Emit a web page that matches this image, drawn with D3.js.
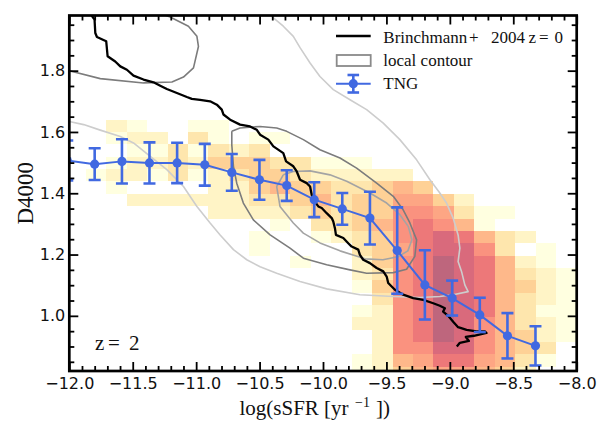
<!DOCTYPE html>
<html>
<head>
<meta charset="utf-8">
<script src="https://cdn.jsdelivr.net/npm/d3@7"></script>
<style>
  body { margin: 0; background: #fff; }
  svg { display: block; }
</style>
</head>
<body>
<svg id="chart" width="609" height="422"></svg>
<script>
// ---- data -------------------------------------------------------------

// TNG median D4000 in bins of log sSFR, with the error bars
const tngLogSSFR = [-12.016, -11.800, -11.585, -11.368, -11.150, -10.932, -10.719, -10.501, -10.286,
                    -10.069, -9.848, -9.630, -9.415, -9.197, -8.982, -8.764, -8.546, -8.325];
const tngD4000   = [1.507, 1.495, 1.504, 1.499, 1.499, 1.493, 1.468, 1.444, 1.425,
                    1.379, 1.349, 1.319, 1.213, 1.101, 1.058, 1.003, 0.935, 0.902];
const tngErr     = [0.065, 0.052, 0.072, 0.067, 0.066, 0.068, 0.060, 0.065, 0.050,
                    0.057, 0.052, 0.086, 0.141, 0.113, 0.057, 0.056, 0.074, 0.064];

// Brinchmann et al. (2004) z = 0 relation
const b04LogSSFR = [-11.860, -11.801, -11.795, -11.782, -11.709, -11.698, -11.638, -11.598, -11.546, -11.494,
                    -11.415, -11.336, -11.283, -11.231, -11.152, -11.073, -11.034, -10.969, -10.890, -10.837,
                    -10.798, -10.785, -10.732, -10.654, -10.575, -10.522, -10.496, -10.431, -10.391, -10.313,
                    -10.291, -10.234, -10.207, -10.181, -10.128, -10.102, -10.089, -10.076, -10.037, -10.010,
                    -9.971, -9.931, -9.919, -9.906, -9.898, -9.840, -9.801, -9.774, -9.722, -9.709,
                    -9.683, -9.630, -9.577, -9.525, -9.498, -9.486, -9.433, -9.368, -9.289, -9.210,
                    -9.131, -9.079, -9.039, -9.053, -9.013, -8.974, -8.935, -8.868, -8.790, -8.724,
                    -8.711, -8.811, -8.874, -8.850, -8.921, -8.945];
const b04D4000   = [2.000, 1.967, 1.923, 1.910, 1.896, 1.847, 1.830, 1.814, 1.803, 1.784,
                    1.771, 1.762, 1.751, 1.740, 1.727, 1.714, 1.708, 1.705, 1.700, 1.689,
                    1.673, 1.657, 1.640, 1.624, 1.618, 1.607, 1.591, 1.575, 1.553, 1.531,
                    1.504, 1.488, 1.471, 1.444, 1.433, 1.422, 1.395, 1.379, 1.357, 1.352,
                    1.335, 1.319, 1.308, 1.286, 1.264, 1.254, 1.237, 1.226, 1.216, 1.199,
                    1.183, 1.172, 1.156, 1.145, 1.128, 1.107, 1.085, 1.069, 1.058, 1.052,
                    1.041, 1.033, 1.025, 1.014, 1.000, 0.981, 0.963, 0.954, 0.949, 0.949,
                    0.944, 0.935, 0.931, 0.918, 0.912, 0.900];

// local (z = 0) density contours, [log sSFR, D4000]
const contourOuterDark = [[-12.05, 1.802], [-12.000, 1.800], [-11.756, 1.774], [-11.415, 1.760], [-11.191, 1.763],
  [-11.100, 1.779], [-11.021, 1.809], [-10.982, 1.879], [-10.994, 1.912], [-11.061, 1.945],
  [-11.205, 1.975], [-11.330, 1.995]];
const contourInnerDark = [[-10.719, 1.602], [-10.654, 1.613], [-10.496, 1.618], [-10.365, 1.613], [-10.286, 1.602],
  [-10.155, 1.575], [-10.024, 1.542], [-9.866, 1.515], [-9.735, 1.482], [-9.577, 1.433],
  [-9.446, 1.390], [-9.368, 1.346], [-9.315, 1.303], [-9.262, 1.248], [-9.276, 1.194],
  [-9.341, 1.152], [-9.446, 1.141], [-9.656, 1.139], [-9.787, 1.150], [-9.971, 1.167],
  [-10.155, 1.188], [-10.260, 1.221], [-10.417, 1.264], [-10.549, 1.313], [-10.628, 1.368],
  [-10.680, 1.433], [-10.706, 1.488], [-10.719, 1.558], [-10.719, 1.602]];
const contourMid = [[-10.313, 1.460], [-10.234, 1.471], [-10.102, 1.473], [-9.945, 1.460], [-9.813, 1.439],
  [-9.630, 1.401], [-9.498, 1.368], [-9.394, 1.330], [-9.328, 1.292], [-9.299, 1.248],
  [-9.331, 1.212], [-9.409, 1.193], [-9.528, 1.183], [-9.669, 1.186], [-9.866, 1.212],
  [-10.024, 1.238], [-10.155, 1.270], [-10.234, 1.303], [-10.339, 1.357], [-10.365, 1.422],
  [-10.313, 1.460]];
const contourLight = [[-12.05, 1.645], [-12.000, 1.634], [-11.887, 1.624], [-11.756, 1.606], [-11.598, 1.585],
  [-11.494, 1.564], [-11.362, 1.520], [-11.231, 1.477], [-11.100, 1.422], [-10.994, 1.357],
  [-10.890, 1.303], [-10.811, 1.264], [-10.706, 1.216], [-10.601, 1.183], [-10.496, 1.160],
  [-10.365, 1.139], [-10.181, 1.112], [-9.971, 1.088], [-9.709, 1.069], [-9.446, 1.063],
  [-9.236, 1.060], [-9.079, 1.063], [-8.974, 1.069], [-8.856, 1.079], [-8.882, 1.101],
  [-8.908, 1.145], [-8.935, 1.177], [-8.921, 1.221], [-8.935, 1.264], [-8.974, 1.319],
  [-9.026, 1.368], [-9.079, 1.401], [-9.157, 1.444], [-9.262, 1.509], [-9.394, 1.575],
  [-9.525, 1.629], [-9.656, 1.673], [-9.787, 1.705], [-9.919, 1.738], [-10.024, 1.781],
  [-10.102, 1.825], [-10.181, 1.875], [-10.234, 1.912], [-10.313, 1.945], [-10.391, 1.972],
  [-10.460, 2.000]];

// 2D histogram of TNG galaxies: density level per cell (0 = empty, a = 10)
// columns start at log sSFR = -13 + 7*5/31 in steps of 5/31, rows listed top to bottom
const heatXStart = -13 + 7 * 5 / 31;
const heatXStep = 5 / 31;
const heatYStart = 0.7937;
const heatYStep = 0.0403;
const heatLevels = [
  "021001100000000000000000",
  "012203101100000000000000",
  "001131323000000000000000",
  "012232444331110000000000",
  "122131234432222200000000",
  "010000224544334540000000",
  "002222223345344664200000",
  "000000222234344776311000",
  "000000000103345787510000",
  "000000001001234789853200",
  "000000001000034689973010",
  "00000000001002478a985210",
  "00000000000002378a985321",
  "00000000000001478a985421",
  "00000000000000378a985321",
  "00000000000001278a985311",
  "00000000000002278a975321",
  "00000000000000278a975421",
  "000000000000002779975430",
  "000000000000012568865310",
  "000000000000012456654200"
];
const levelT = [0, 0, 0.125, 0.25, 0.375, 0.5, 0.57, 0.64, 0.75, 0.86, 0.96];

// axis ticks
const xMajor = [-12, -11.5, -11, -10.5, -10, -9.5, -9, -8.5, -8];
const yMajor = [1.0, 1.2, 1.4, 1.6, 1.8];

// ---- drawing ----------------------------------------------------------

const plot = { left: 69.3, right: 576.7, top: 15.5, bottom: 371 };
const svg = d3.select("#chart");

const x = d3.scaleLinear().domain([-12, -8]).range([plot.left, plot.right]);
const y = d3.scaleLinear().domain([0.82, 1.98]).range([plot.bottom, plot.top]);

svg.append("defs").append("clipPath").attr("id", "plot-clip")
  .append("rect")
  .attr("x", plot.left).attr("y", plot.top)
  .attr("width", plot.right - plot.left).attr("height", plot.bottom - plot.top);

const body = svg.append("g").attr("clip-path", "url(#plot-clip)");

// histogram cells
const cells = [];
const nRows = heatLevels.length;
heatLevels.forEach((row, i) => {
  const k = nRows - 1 - i;
  row.split("").forEach((ch, j) => {
    const level = parseInt(ch, 16);
    if (level > 0) {
      cells.push({
        x0: heatXStart + j * heatXStep,
        x1: heatXStart + (j + 1) * heatXStep,
        y0: heatYStart + k * heatYStep,
        y1: heatYStart + (k + 1) * heatYStep,
        level
      });
    }
  });
});

body.append("g").attr("shape-rendering", "crispEdges")
  .selectAll("rect").data(cells).join("rect")
  .attr("x", d => x(d.x0))
  .attr("y", d => y(d.y1))
  .attr("width", d => x(d.x1) - x(d.x0))
  .attr("height", d => y(d.y0) - y(d.y1))
  .attr("fill", d => d3.interpolateYlOrRd(levelT[d.level]))
  .attr("fill-opacity", 0.6);

// contours
const pairLine = d3.line().x(d => x(d[0])).y(d => y(d[1]));
const contours = [
  { pts: contourLight, color: "#cdcdcd" },
  { pts: contourMid, color: "#a4a4a4" },
  { pts: contourInnerDark, color: "#7c7c7c" },
  { pts: contourOuterDark, color: "#7c7c7c" }
];
body.append("g").selectAll("path").data(contours).join("path")
  .attr("d", d => pairLine(d.pts))
  .attr("fill", "none")
  .attr("stroke", d => d.color)
  .attr("stroke-width", 1.6)
  .attr("stroke-linejoin", "round");

// Brinchmann et al. 2004
const b04 = b04LogSSFR.map((v, i) => [v, b04D4000[i]]);
body.append("path")
  .attr("d", pairLine(b04))
  .attr("fill", "none")
  .attr("stroke", "#000")
  .attr("stroke-width", 2.3)
  .attr("stroke-linejoin", "round");

// TNG medians with error bars
const blue = "#4169e1";
const tng = tngLogSSFR.map((v, i) => ({ x: v, y: tngD4000[i], e: tngErr[i] }));
const tngG = body.append("g");
tngG.append("path")
  .attr("d", d3.line().x(d => x(d.x)).y(d => y(d.y))(tng))
  .attr("fill", "none").attr("stroke", blue).attr("stroke-width", 2);
const eb = tngG.selectAll("g.eb").data(tng).join("g").attr("class", "eb");
eb.append("line")
  .attr("x1", d => x(d.x)).attr("x2", d => x(d.x))
  .attr("y1", d => y(d.y - d.e)).attr("y2", d => y(d.y + d.e))
  .attr("stroke", blue).attr("stroke-width", 2.6);
eb.append("line")
  .attr("x1", d => x(d.x) - 6).attr("x2", d => x(d.x) + 6)
  .attr("y1", d => y(d.y + d.e)).attr("y2", d => y(d.y + d.e))
  .attr("stroke", blue).attr("stroke-width", 2.6);
eb.append("line")
  .attr("x1", d => x(d.x) - 6).attr("x2", d => x(d.x) + 6)
  .attr("y1", d => y(d.y - d.e)).attr("y2", d => y(d.y - d.e))
  .attr("stroke", blue).attr("stroke-width", 2.6);
eb.append("circle")
  .attr("cx", d => x(d.x)).attr("cy", d => y(d.y)).attr("r", 4.6)
  .attr("fill", blue);

// axes: inward ticks on all four sides
const xMinor = d3.range(-11.9, -8.0, 0.1).map(v => +v.toFixed(2))
  .filter(v => !xMajor.some(m => Math.abs(m - v) < 1e-6));
const yMinor = d3.range(0.85, 1.96, 0.05).map(v => +v.toFixed(2))
  .filter(v => !yMajor.some(m => Math.abs(m - v) < 1e-6));
const fmt = d3.format(".1f");

function styleAxis(g) {
  g.select(".domain").remove();
  g.selectAll(".tick line").attr("stroke", "#000").attr("stroke-width", 1.8);
  g.attr("font-family", "DejaVu Sans").attr("font-size", 16);
  g.selectAll("text").attr("fill", "#111");
}

const axes = [
  { gen: d3.axisBottom, scale: x, t: `translate(0,${plot.bottom})`, major: xMajor, minor: xMinor, labels: true, pad: 7 },
  { gen: d3.axisTop, scale: x, t: `translate(0,${plot.top})`, major: xMajor, minor: xMinor, labels: false },
  { gen: d3.axisLeft, scale: y, t: `translate(${plot.left},0)`, major: yMajor, minor: yMinor, labels: true, pad: 4 },
  { gen: d3.axisRight, scale: y, t: `translate(${plot.right},0)`, major: yMajor, minor: yMinor, labels: false }
];
axes.forEach(a => {
  svg.append("g").attr("transform", a.t)
    .call(a.gen(a.scale).tickValues(a.minor).tickSize(-5).tickFormat(""))
    .call(styleAxis);
  svg.append("g").attr("transform", a.t)
    .call(a.gen(a.scale).tickValues(a.major).tickSize(-9)
      .tickPadding(a.labels ? a.pad : 0)
      .tickFormat(a.labels ? fmt : ""))
    .call(styleAxis);
});

// frame
svg.append("rect")
  .attr("x", plot.left).attr("y", plot.top)
  .attr("width", plot.right - plot.left).attr("height", plot.bottom - plot.top)
  .attr("fill", "none").attr("stroke", "#000").attr("stroke-width", 2.7);

// axis titles
const serif = "'Liberation Serif', 'DejaVu Serif', serif";
const xt = svg.append("text")
  .attr("font-family", serif).attr("font-size", 21).attr("fill", "#111")
  .attr("y", 415);
xt.append("tspan").attr("x", 239.5).text("log(sSFR");
xt.append("tspan").attr("x", 324).text("[yr");
xt.append("tspan").attr("x", 355).attr("y", 407).attr("font-size", 14).text("\u22121");
xt.append("tspan").attr("x", 376).attr("y", 415).text("])");

svg.append("text")
  .attr("transform", `translate(33,${(plot.top + plot.bottom) / 2}) rotate(-90)`)
  .attr("text-anchor", "middle")
  .attr("font-family", serif).attr("font-size", 23).attr("fill", "#111")
  .text("D4000");

// redshift label
const zt = svg.append("text")
  .attr("font-family", serif).attr("font-size", 21).attr("fill", "#111")
  .attr("y", 350);
zt.append("tspan").attr("x", 95).text("z");
zt.append("tspan").attr("x", 108).text("=");
zt.append("tspan").attr("x", 129).text("2");

// legend
const lg = svg.append("g").attr("font-family", serif).attr("font-size", 17).attr("fill", "#111");
lg.append("line").attr("x1", 336).attr("x2", 370.7).attr("y1", 36).attr("y2", 36)
  .attr("stroke", "#000").attr("stroke-width", 2.6);
const lt1 = lg.append("text").attr("y", 42.7);
lt1.append("tspan").attr("x", 383.3).text("Brinchmann");
lt1.append("tspan").attr("x", 469).text("+");
lt1.append("tspan").attr("x", 491).text("2004");
lt1.append("tspan").attr("x", 528.5).text("z");
lt1.append("tspan").attr("x", 539).text("=");
lt1.append("tspan").attr("x", 554.5).text("0");

lg.append("rect").attr("x", 336.7).attr("y", 55).attr("width", 34).attr("height", 11)
  .attr("fill", "#fff").attr("stroke", "#8a8a8a").attr("stroke-width", 1.8);
lg.append("text").attr("x", 383.3).attr("y", 66).text("local contour");

lg.append("line").attr("x1", 336).attr("x2", 370.7).attr("y1", 83.7).attr("y2", 83.7)
  .attr("stroke", blue).attr("stroke-width", 2);
lg.append("line").attr("x1", 353.3).attr("x2", 353.3).attr("y1", 75).attr("y2", 92.5)
  .attr("stroke", blue).attr("stroke-width", 2.6);
lg.append("line").attr("x1", 347.5).attr("x2", 359.1).attr("y1", 75).attr("y2", 75)
  .attr("stroke", blue).attr("stroke-width", 2.6);
lg.append("line").attr("x1", 347.5).attr("x2", 359.1).attr("y1", 92.5).attr("y2", 92.5)
  .attr("stroke", blue).attr("stroke-width", 2.6);
lg.append("circle").attr("cx", 353.3).attr("cy", 83.7).attr("r", 4.6).attr("fill", blue);
lg.append("text").attr("x", 383.3).attr("y", 88.7).text("TNG");
</script>
</body>
</html>
